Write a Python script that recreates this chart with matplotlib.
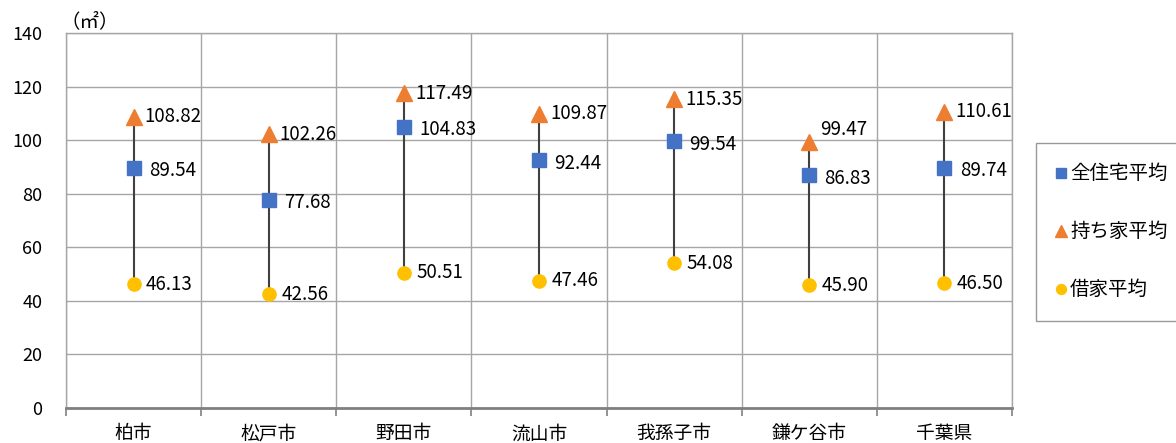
import numpy as np
import matplotlib
matplotlib.use('Agg')
from matplotlib import pyplot as plt

plt.rcParams['font.family'] = ['Noto Sans CJK JP', 'DejaVu Sans']

# data
cities = ['柏市', '松戸市', '野田市', '流山市', '我孫子市', '鎌ケ谷市', '千葉県']
all_avg = [89.54, 77.68, 104.83, 92.44, 99.54, 86.83, 89.74]
own_avg = [108.82, 102.26, 117.49, 109.87, 115.35, 99.47, 110.61]
rent_avg = [46.13, 42.56, 50.51, 47.46, 54.08, 45.90, 46.50]

c_blue = '#4472C4'
c_orange = '#ED7D31'
c_yellow = '#FFC000'
grid_c = '#a6a6a6'

fig = plt.figure(figsize=(11.76, 4.43), dpi=100)
ax = fig.add_axes([66 / 1176, 1 - 408 / 443, (1012 - 66) / 1176, (408 - 33) / 443])

x = np.arange(len(cities))

# hi-lo lines
ax.vlines(x, rent_avg, own_avg, color='#404040', lw=1.5, zorder=2)

ax.plot(x, all_avg, 's', color=c_blue, ms=10.5, label='全住宅平均', zorder=3)
ax.plot(x, own_avg, '^', color=c_orange, ms=11, label='持ち家平均', zorder=3)
ax.plot(x, rent_avg, 'o', color=c_yellow, ms=9.5, label='借家平均', zorder=3)

# data labels
fs = 13.5
for xi, v in zip(x, all_avg):
    ax.annotate(f'{v:.2f}', (xi, v), xytext=(11, -2), textcoords='offset points',
                ha='left', va='center', fontsize=fs)
for xi, v in zip(x, own_avg):
    dy = 9 if v < 100 else 0
    ax.annotate(f'{v:.2f}', (xi, v), xytext=(8, dy), textcoords='offset points',
                ha='left', va='center', fontsize=fs)
for xi, v in zip(x, rent_avg):
    ax.annotate(f'{v:.2f}', (xi, v), xytext=(9, 0), textcoords='offset points',
                ha='left', va='center', fontsize=fs)

ax.set_xlim(-0.5, len(cities) - 0.5)
ax.set_ylim(0, 140)
ax.set_yticks(range(0, 141, 20))
ax.set_xticks(x)
ax.set_xticklabels(cities, fontsize=13.5)
ax.set_xticks(np.arange(-0.5, len(cities), 1), minor=True)
ax.tick_params(axis='x', which='major', length=0, pad=11)
ax.tick_params(axis='x', which='minor', length=6, color='#808080', width=1.2)
ax.tick_params(axis='y', length=0, labelsize=13, pad=17)

ax.grid(axis='y', color=grid_c, lw=1)
ax.grid(axis='x', which='minor', color=grid_c, lw=1)
ax.set_axisbelow(True)
for s in ['top', 'right', 'left']:
    ax.spines[s].set_color(grid_c)
    ax.spines[s].set_linewidth(1)
ax.spines['bottom'].set_color('#808080')
ax.spines['bottom'].set_linewidth(2)

fig.text(60 / 1176, 1 - 22 / 443, '（㎡）', fontsize=14, ha='left', va='center')

leg = fig.legend(loc='upper left', bbox_to_anchor=(1036 / 1176, 1 - 143 / 443),
                 fontsize=14, frameon=True, fancybox=False, handlelength=0.5,
                 handletextpad=0.2, labelspacing=1.9, borderpad=1.05,
                 borderaxespad=0, markerscale=0.75)
leg.get_frame().set_edgecolor('#808080')
leg.get_frame().set_linewidth(1)

fig.savefig('out.png', dpi=100)
